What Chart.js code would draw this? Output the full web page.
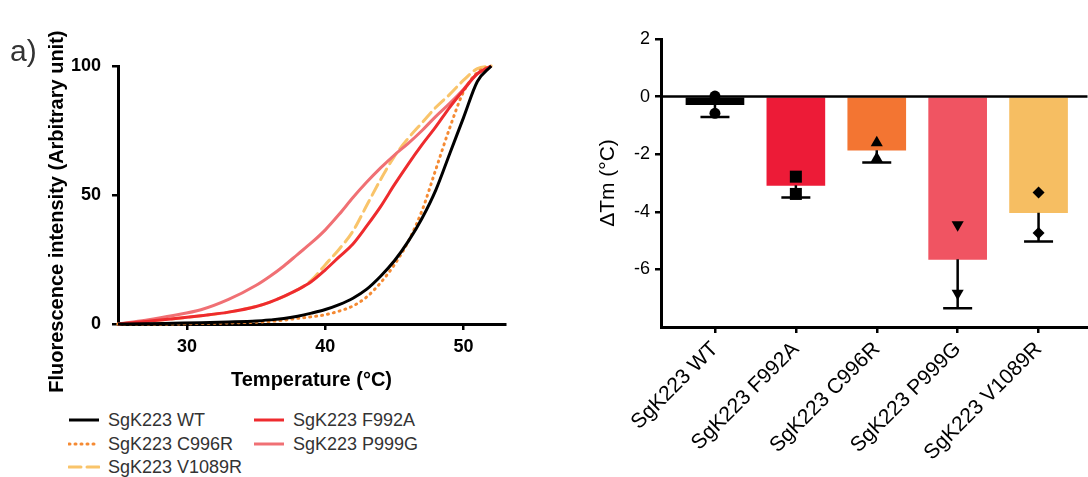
<!DOCTYPE html>
<html>
<head>
<meta charset="utf-8">
<script src="https://cdn.jsdelivr.net/npm/chart.js@4.4.0/dist/chart.umd.min.js"></script>
<style>
  body { margin: 0; background: #fff; font-family: "Liberation Sans", Arial, sans-serif; }
  #wrap { position: relative; width: 1088px; height: 477px; overflow: hidden; }
  #melt { position: absolute; left: 0; top: 0; }
  #tm { position: absolute; left: 540px; top: 0; }
  .tag { position: absolute; left: 10px; top: 34px; font-size: 30px; color: #333; }
  .item { position: absolute; height: 22px; display: flex; align-items: center; font-size: 18px; color: #333; white-space: nowrap; }
  .item svg { margin-right: 8px; }
</style>
</head>
<body>
<div id="wrap">
  <canvas id="melt" width="540" height="400"></canvas>
  <canvas id="tm" width="556" height="477"></canvas>
  <div class="tag">a)</div>
  <div id="legend"></div>
</div>
<script>
// melt curves (left)
const temps = [25, 27, 29, 31, 33, 35, 36, 37, 38, 39, 40, 41, 42, 43, 44, 45, 46, 47, 48, 49, 50, 51, 52];
const wt     = [0, 0.1, 0.3, 0.5, 0.8, 1.2, 1.6, 2.1, 3, 4.2, 5.6, 7.5, 10, 13.5, 18.5, 24.5, 32, 41, 52, 66, 80, 94, 100];
const f992a  = [0, 1, 2, 3.2, 4.6, 6.8, 8.5, 10.7, 13.3, 16.5, 21, 26, 31, 38, 45.5, 54, 62, 69.5, 76.5, 84, 90.7, 97, 100];
const c996r  = [0, 0, 0, 0.2, 0.4, 0.7, 1, 1.5, 2.2, 2.8, 3.6, 5, 7, 10.5, 16, 23, 32, 44, 60, 76, 90, 97.5, 100];
const p999g  = [0, 1.5, 3.3, 5.5, 9.5, 15, 18.5, 22.5, 27, 31.5, 36.5, 42.5, 49, 55, 60.5, 65.5, 70, 75, 80.5, 85.5, 91, 97, 100];
const v1089r = [0, 1, 2, 3.2, 4.6, 6.8, 8.5, 10.7, 13.3, 17, 23, 29, 36, 46, 56, 65, 72, 78, 84, 89, 94.5, 99, 100];

// delta Tm (right)
const categories = ['SgK223 WT', 'SgK223 F992A', 'SgK223 C996R', 'SgK223 P999G', 'SgK223 V1089R'];
const meanTm = [-0.28, -3.08, -1.86, -5.65, -4.03];
const sdTm = [0.43, 0.42, 0.43, 1.7, 1.0];
const repA = [0.02, -2.78, -1.6, -4.45, -3.33];
const repB = [-0.58, -3.38, -2.15, -6.83, -4.74];

const barColors = ['#000000', '#ED1B37', '#F37532', '#F05462', '#F6BE62'];
const markers = ['circle', 'rect', 'triangle', 'triangle', 'rectRot'];
const markerRot = [0, 0, 0, 180, 0];
const markerSize = [5.5, 8.5, 7, 7, 6];

const series = [
  { label: 'SgK223 WT', values: wt, color: '#000000', dash: [] },
  { label: 'SgK223 F992A', values: f992a, color: '#EE2B2E', dash: [] },
  { label: 'SgK223 C996R', values: c996r, color: '#F58A33', dash: [1, 5] },
  { label: 'SgK223 P999G', values: p999g, color: '#F07074', dash: [] },
  { label: 'SgK223 V1089R', values: v1089r, color: '#F9C46A', dash: [12, 6] }
];

Chart.defaults.font.family = '"Liberation Sans", Arial, sans-serif';

new Chart(document.getElementById('melt'), {
  type: 'line',
  data: {
    datasets: series.map(s => ({
      label: s.label,
      data: temps.map((t, i) => ({ x: t, y: s.values[i] })),
      borderColor: s.color,
      borderWidth: 3,
      borderDash: s.dash,
      borderCapStyle: s.dash.length ? 'round' : 'butt',
      pointRadius: 0,
      cubicInterpolationMode: 'monotone',
      fill: false,
      clip: false
    }))
  },
  options: {
    responsive: false,
    animation: false,
    layout: { padding: { top: 66, right: 35, left: 0, bottom: 0 } },
    plugins: { legend: { display: false }, tooltip: { enabled: false } },
    scales: {
      x: {
        type: 'linear', min: 25, max: 53,
        ticks: { stepSize: 10, includeBounds: false, color: '#000', font: { size: 18, weight: 'bold' }, padding: 6 },
        grid: { drawOnChartArea: false, tickLength: 6, tickColor: '#000', lineWidth: 2.5 },
        border: { color: '#000', width: 3 },
        title: { display: true, text: 'Temperature (°C)', color: '#000', font: { size: 20, weight: 'bold' }, padding: { top: 0, bottom: 8 } },
        afterFit: s => { s.height = 76; }
      },
      y: {
        min: 0, max: 100,
        ticks: { stepSize: 50, color: '#000', font: { size: 18, weight: 'bold' }, padding: 11 },
        grid: { drawOnChartArea: false, tickLength: 6, tickColor: '#000', lineWidth: 2.5 },
        border: { color: '#000', width: 3 },
        // trailing spaces nudge the centred title down a little, as in the figure
        title: { display: true, text: 'Fluorescence intensity (Arbitrary unit)      ', color: '#000', font: { size: 20, weight: 'bold' }, padding: { top: 45, bottom: 0 } },
        afterFit: s => { s.width = 118; }
      }
    }
  }
});

// html legend, two columns like the figure
const legendPos = [[68, 409], [253, 409], [68, 433], [253, 433], [68, 456]];
const legend = document.getElementById('legend');
series.forEach((s, i) => {
  const el = document.createElement('div');
  el.className = 'item';
  el.style.left = legendPos[i][0] + 'px';
  el.style.top = legendPos[i][1] + 'px';
  const dash = s.dash.length ? `stroke-dasharray="${s.dash.join(' ')}" stroke-linecap="round"` : '';
  el.innerHTML = `<svg width="32" height="6"><line x1="1" y1="3" x2="31" y2="3" stroke="${s.color}" stroke-width="3" ${dash}/></svg><span>${s.label}</span>`;
  legend.appendChild(el);
});

const errorBars = {
  id: 'errorBars',
  afterDatasetsDraw(chart) {
    const { ctx, scales: { x, y } } = chart;
    ctx.save();
    ctx.strokeStyle = '#000';
    ctx.lineWidth = 2.5;
    // zero line over the bars
    ctx.beginPath();
    ctx.moveTo(chart.chartArea.left, y.getPixelForValue(0));
    ctx.lineTo(chart.chartArea.right, y.getPixelForValue(0));
    ctx.stroke();
    meanTm.forEach((m, i) => {
      const px = x.getPixelForValue(i);
      const y0 = y.getPixelForValue(m);
      const y1 = y.getPixelForValue(m - sdTm[i]);
      ctx.beginPath();
      ctx.moveTo(px, y0);
      ctx.lineTo(px, y1);
      ctx.moveTo(px - 14.5, y1);
      ctx.lineTo(px + 14.5, y1);
      ctx.stroke();
    });
    ctx.restore();
  }
};

const pointSet = vals => ({
  type: 'scatter',
  order: 0,
  data: vals.map((v, i) => ({ x: i, y: v })),
  backgroundColor: '#000',
  borderColor: '#000',
  borderWidth: 0,
  pointStyle: markers,
  rotation: markerRot,
  pointRadius: markerSize,
  clip: false
});

new Chart(document.getElementById('tm'), {
  type: 'bar',
  data: {
    datasets: [
      {
        type: 'bar',
        order: 1,
        data: meanTm.map((m, i) => ({ x: i, y: m })),
        backgroundColor: barColors,
        borderWidth: 0,
        barThickness: 58
      },
      pointSet(repA),
      pointSet(repB)
    ]
  },
  options: {
    responsive: false,
    animation: false,
    layout: { padding: { top: 39, right: 0, left: 0, bottom: 0 } },
    plugins: { legend: { display: false }, tooltip: { enabled: false } },
    scales: {
      x: {
        type: 'linear', min: -0.667, max: 4.605, offset: false,
        ticks: {
          stepSize: 1, includeBounds: false, autoSkip: false, maxRotation: 45, minRotation: 45,
          color: '#000', font: { size: 21 }, padding: 4,
          callback: v => Number.isInteger(v) ? categories[v] : ''
        },
        grid: { drawOnChartArea: false, offset: false, tickLength: 6, tickColor: '#000', lineWidth: 2.5 },
        border: { color: '#000', width: 3 },
        afterFit: s => { s.height = 150; }
      },
      y: {
        min: -8, max: 2,
        ticks: { stepSize: 2, color: '#000', font: { size: 18 }, padding: 5, callback: v => v === -8 ? '' : v },
        grid: {
          drawOnChartArea: false, tickLength: 6, lineWidth: 2.5,
          tickColor: c => c.tick && c.tick.value === -8 ? 'rgba(0,0,0,0)' : '#000'
        },
        border: { color: '#000', width: 3 },
        title: { display: true, text: 'ΔTm (°C)', color: '#000', font: { size: 21 }, padding: { top: 56, bottom: 0 } },
        afterFit: s => { s.width = 121; }
      }
    }
  },
  plugins: [errorBars]
});
</script>
</body>
</html>
